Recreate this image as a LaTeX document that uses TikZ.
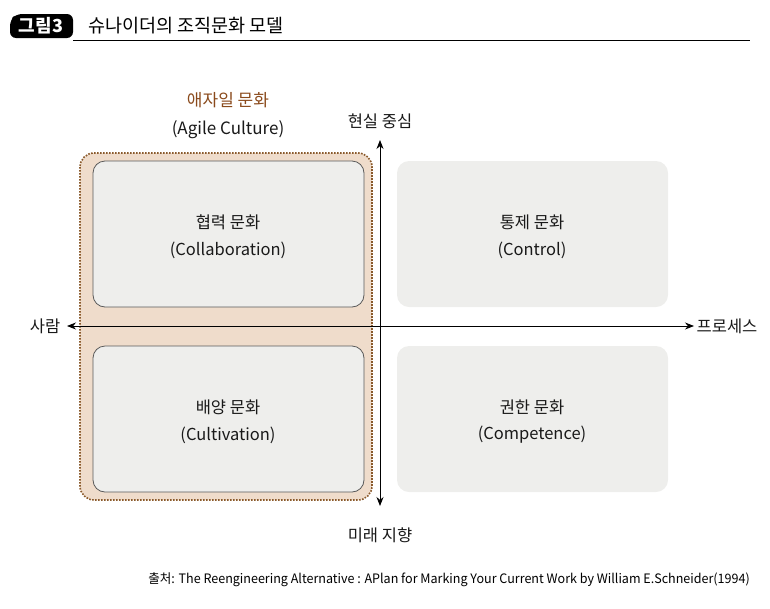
\documentclass[tikz,border=0pt]{standalone}
\usepackage{fontspec}
\setmainfont{Noto Sans CJK KR}
\usetikzlibrary{arrows.meta}
\definecolor{tanfill}{HTML}{EFDCCB}
\definecolor{tanline}{HTML}{8A5A2C}
\definecolor{boxfill}{HTML}{EEEEEC}
\definecolor{boxline}{HTML}{5A5A5A}
\definecolor{agile}{HTML}{8A4A1C}
\tikzset{
  quad/.style={fill=boxfill, rounded corners=12pt},
  quadline/.style={quad, draw=boxline, line width=0.8pt},
  lbl/.style={font=\fontsize{16.5}{20}\selectfont, text=black!90, inner sep=0pt},
  axis/.style={line width=0.8pt, black, -{Stealth[length=9pt,width=7pt]}},
}
\begin{document}
\begin{tikzpicture}[x=1pt,y=-1pt]
\useasboundingbox (0,0) rectangle (770,608);
% header
\fill[black, rounded corners=6pt] (73,14) -- (16,14) -- (10,20) -- (10,38) -- (73,38) -- cycle;
\node[font=\fontsize{18}{20}\selectfont\bfseries, text=white, inner sep=0pt] (tab) at (41,26) {그림3};
\node[font=\fontsize{18.5}{21}\selectfont, anchor=west, inner sep=0pt] (title) at (88,26) {슈나이더의 조직문화 모델};
\draw[line width=1.4pt] (73,40.5) -- (750,40.5);
% agile region
\draw[fill=tanfill, draw=tanline, line width=1.6pt, dash pattern=on 1.6pt off 1.4pt, rounded corners=14pt] (80,153) rectangle (372,500);
\node[lbl, font=\fontsize{17}{20}\selectfont, text=agile] (agile) at (228,100) {애자일 문화};
\node[lbl, font=\fontsize{17}{20}\selectfont] (agileen) at (228,130) {(Agile Culture)};
% quadrants
\draw[quadline] (93,161) rectangle (364,307);
\draw[quadline] (93,346) rectangle (364,492);
\fill[quad] (397,161) rectangle (668,307);
\fill[quad] (397,346) rectangle (668,492);
\node[lbl] (q1) at (228,222) {협력 문화};
\node[lbl] (q1e) at (228,250) {(Collaboration)};
\node[lbl] (q2) at (532,222) {통제 문화};
\node[lbl] (q2e) at (532,250) {(Control)};
\node[lbl] (q3) at (228,407) {배양 문화};
\node[lbl] (q3e) at (228,435) {(Cultivation)};
\node[lbl] (q4) at (532,407) {권한 문화};
\node[lbl] (q4e) at (532,435) {(Competence)};
% axes
\coordinate (c) at (380,326);
\coordinate (top) at (380,140);
\coordinate (bot) at (380,506);
\coordinate (lft) at (67,326);
\coordinate (rgt) at (694,326);
\draw[axis] (c) -- (top);
\draw[axis] (c) -- (bot);
\draw[axis] (c) -- (lft);
\draw[axis] (c) -- (rgt);
\node[lbl] (up) at (380,121) {현실 중심};
\node[lbl] (down) at (380,535) {미래 지향};
\node[lbl] (people) at (45,326) {사람};
\node[lbl] (proc) at (727,326) {프로세스};
% source
\node[font=\fontsize{13}{15}\selectfont, anchor=east, inner sep=0pt, xscale=0.965] (src) at (750,580) {출처: The Reengineering Alternative : APlan for Marking Your Current Work by William E.Schneider(1994)};
\end{tikzpicture}
\end{document}
